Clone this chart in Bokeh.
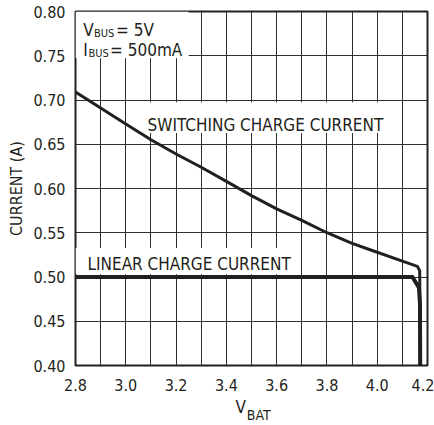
from bokeh.plotting import figure
from bokeh.models import FixedTicker, Label, BoxAnnotation, Range1d, NumeralTickFormatter, LinearAxis
from bokeh.embed import file_html
from bokeh.resources import INLINE

FONT = "DejaVu Sans Condensed"
INK = "#231f20"

# ---- data ----
vbat_switching = [2.80, 2.90, 3.00, 3.10, 3.20, 3.30, 3.40, 3.50, 3.60, 3.70,
                  3.80, 3.90, 4.00, 4.10, 4.160, 4.169, 4.171]
i_switching = [0.709, 0.691, 0.673, 0.655, 0.639, 0.624, 0.608, 0.592, 0.577, 0.564,
               0.550, 0.538, 0.528, 0.518, 0.512, 0.507, 0.400]

vbat_linear = [2.80, 4.140, 4.166, 4.170, 4.171]
i_linear = [0.500, 0.500, 0.488, 0.470, 0.400]

x_ticks = [2.8, 3.0, 3.2, 3.4, 3.6, 3.8, 4.0, 4.2]
x_minor = [2.9, 3.1, 3.3, 3.5, 3.7, 3.9, 4.1]
y_ticks = [0.40, 0.45, 0.50, 0.55, 0.60, 0.65, 0.70, 0.75, 0.80]

p = figure(width=434, height=425, output_backend="svg", toolbar_location=None, title=None,
           x_range=Range1d(2.8, 4.2), y_range=Range1d(0.40, 0.80),
           min_border_left=75, min_border_right=7, min_border_top=11, min_border_bottom=60)
p.background_fill_color = "white"
p.border_fill_color = "white"
p.outline_line_color = INK
p.outline_line_width = 2

p.xaxis.ticker = FixedTicker(ticks=x_ticks, minor_ticks=x_minor)
p.yaxis.ticker = FixedTicker(ticks=y_ticks)
p.xaxis.formatter = NumeralTickFormatter(format="0.0")
p.yaxis.formatter = NumeralTickFormatter(format="0.00")

for ax in (p.xaxis, p.yaxis):
    ax.axis_line_color = None
    ax.major_tick_line_color = None
    ax.minor_tick_line_color = None
    ax.major_tick_out = 0
    ax.major_tick_in = 0
    ax.minor_tick_out = 0
    ax.minor_tick_in = 0
    ax.major_label_text_font = FONT
    ax.major_label_text_font_size = "16px"
    ax.major_label_text_color = INK
p.xaxis.major_label_standoff = 13
p.yaxis.major_label_standoff = 10

p.yaxis.axis_label = "CURRENT (A)"
p.yaxis.axis_label_text_font = FONT
p.yaxis.axis_label_text_font_size = "16px"
p.yaxis.axis_label_text_font_style = "normal"
p.yaxis.axis_label_text_color = INK
p.yaxis.axis_label_standoff = 4

p.xgrid.grid_line_color = "#2e2e2e"
p.xgrid.grid_line_width = 1
p.xgrid.minor_grid_line_color = "#2e2e2e"
p.xgrid.minor_grid_line_width = 1
p.ygrid.grid_line_color = "#2e2e2e"
p.ygrid.grid_line_width = 1

p.line(vbat_switching, i_switching, line_color=INK, line_width=3, line_join="miter")
p.line(vbat_linear, i_linear, line_color=INK, line_width=4, line_join="miter")

# white patches behind the in-plot texts
for l, r, t, b in [(2.8, 3.25, 0.80, 0.7472),
                   (3.08, 4.058, 0.6975, 0.6626),
                   (2.8, 3.676, 0.5328, 0.5030)]:
    p.add_layout(BoxAnnotation(left=l, right=r, top=t, bottom=b,
                               fill_color="white", fill_alpha=1.0, line_color=None))


def lab(x, y, text, size):
    p.add_layout(Label(x=x, y=y, text=text, text_font=FONT, text_font_size=size,
                       text_color=INK, text_baseline="alphabetic", text_align="left"))


lab(2.8306, 0.7790, "V", "17px")
lab(2.8735, 0.7756, "BUS", "11px")
lab(2.9612, 0.7790, "= 5V", "17px")
lab(2.8306, 0.7561, "I", "17px")
lab(2.8518, 0.7527, "BUS", "11px")
lab(2.9373, 0.7561, "= 500mA", "17px")

lab(3.0866, 0.6717, "SWITCHING CHARGE CURRENT", "17px")
lab(2.8478, 0.5142, "LINEAR CHARGE CURRENT", "17px")

# x-axis title "V" with subscript "BAT", drawn as label-only axes below the main axis
def title_axis(x, text, size, standoff):
    ax = LinearAxis(ticker=FixedTicker(ticks=[x]), major_label_overrides={x: text})
    ax.axis_line_color = None
    ax.major_tick_line_color = None
    ax.minor_tick_line_color = None
    ax.major_tick_out = 0
    ax.major_tick_in = 0
    ax.minor_tick_out = 0
    ax.minor_tick_in = 0
    ax.major_label_standoff = standoff
    ax.major_label_text_font = FONT
    ax.major_label_text_font_size = size
    ax.major_label_text_color = INK
    p.add_layout(ax, "below")


title_axis(3.457, "V", "17px", 3)
title_axis(3.5285, "BAT", "14px", -13)

open("out.html", "w").write(file_html(p, INLINE))
